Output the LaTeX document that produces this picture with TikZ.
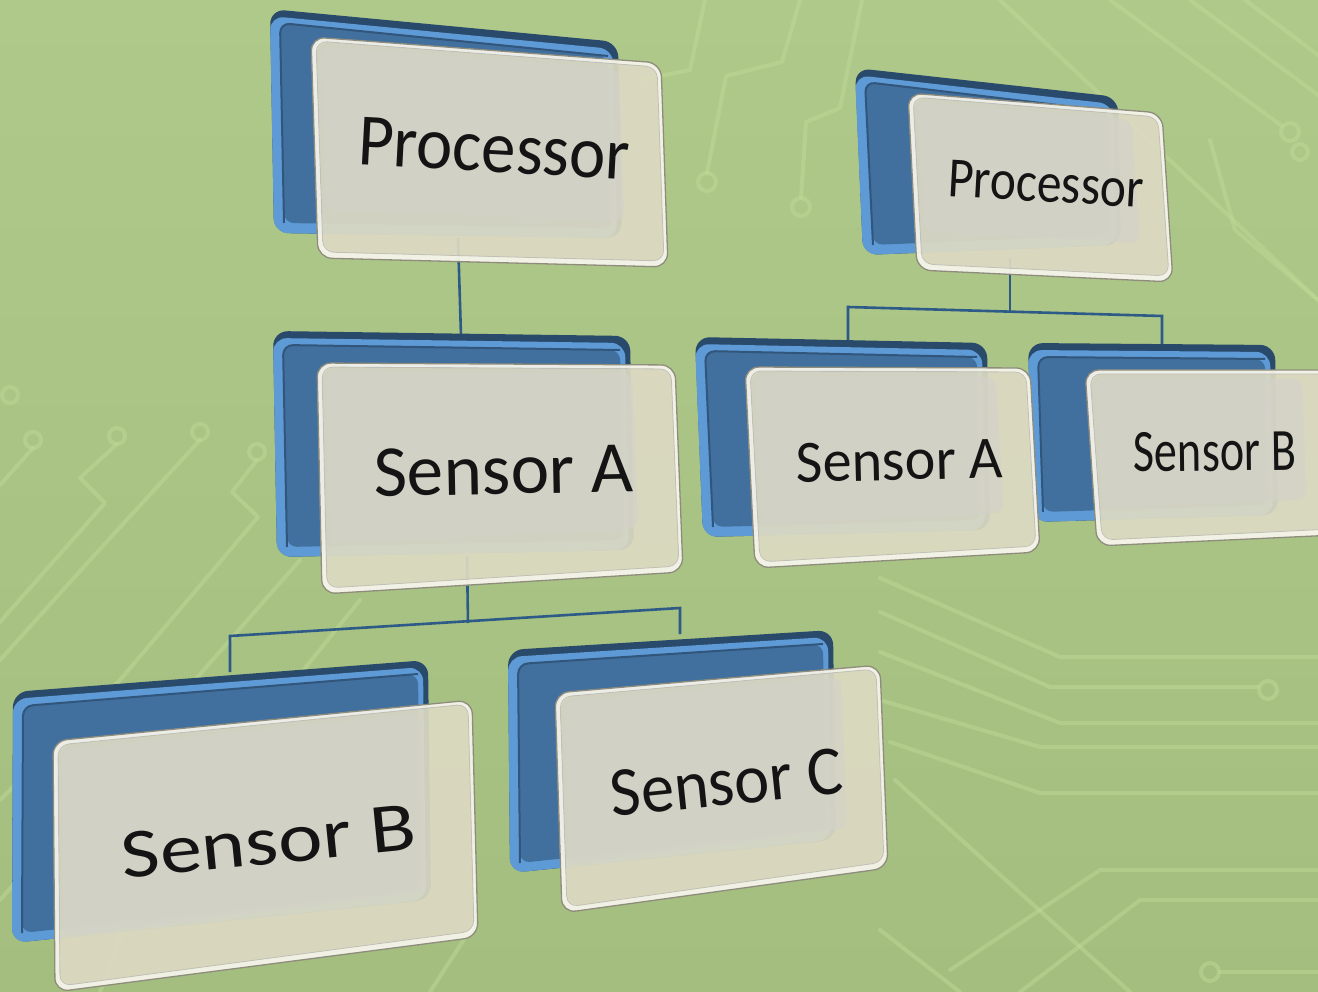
\documentclass[tikz,border=0pt]{standalone}
\usepackage{fontspec}
\setmainfont{Carlito}
\usetikzlibrary{calc}

\definecolor{bgtop}{HTML}{AFC98A}
\definecolor{bgbot}{HTML}{A3BE7E}
\definecolor{trace}{HTML}{BFDA96}
\definecolor{rimdark}{HTML}{2A4A6B}
\definecolor{bevel}{HTML}{5E9BD6}
\definecolor{face}{HTML}{41709F}
\definecolor{cardrim}{HTML}{F4F3E9}
\definecolor{card}{HTML}{DDDAC3}
\definecolor{cardin}{HTML}{D3D2C8}
\definecolor{cardedge}{HTML}{8E8C7C}
\definecolor{linkblue}{HTML}{2E5A88}

% corner points of one chart entry: blue back panel (b1..b4), glass card (f1..f4)
\newcommand{\cardcorners}[9]{%
  \coordinate (#1-b1) at (#2); \coordinate (#1-b2) at (#3);
  \coordinate (#1-b3) at (#4); \coordinate (#1-b4) at (#5);
  \coordinate (#1-f1) at (#6); \coordinate (#1-f2) at (#7);
  \coordinate (#1-f3) at (#8); \coordinate (#1-f4) at (#9);
}

% bevelled blue back panel
\newcommand{\backpanel}[1]{%
  \fill[rimdark, rounded corners=15] (#1-b1) -- (#1-b2) -- (#1-b3) -- (#1-b4) -- cycle;
  \fill[bevel, rounded corners=14] ($(#1-b1)+(0,7)$) -- ($(#1-b2)+(-5,7)$)
        -- ($(#1-b3)+(-5,0)$) -- (#1-b4) -- cycle;
  \fill[face, rounded corners=10] ($(#1-b1)+(10,14)$) -- ($(#1-b2)+(-10,14)$)
        -- ($(#1-b3)+(-10,-10)$) -- ($(#1-b4)+(10,-10)$) -- cycle;
  \draw[rimdark!70!face, line width=2, rounded corners=10] ($(#1-b4)+(10,-10)$)
        -- ($(#1-b1)+(10,14)$) -- ($(#1-b2)+(-10,14)$);
}

% translucent glass card in front
\newcommand{\frontcard}[1]{%
  \coordinate (#1-i1) at ($(#1-f1)+(9,9)$);
  \coordinate (#1-i2) at ($(#1-f2)!0.12!(#1-f1)$);
  \coordinate (#1-i4) at ($(#1-f4)!0.22!(#1-f1)$);
  \coordinate (#1-i3a) at ($(#1-f3)!0.22!(#1-f2)$);
  \coordinate (#1-i3) at ($(#1-i3a)!0.12!(#1-i4)$);
  \fill[cardrim, opacity=0.96, even odd rule, rounded corners=14]
        (#1-f1) -- (#1-f2) -- (#1-f3) -- (#1-f4) -- cycle
        ($(#1-f1)+(5,4)$) -- ($(#1-f2)+(-4,4)$) -- ($(#1-f3)+(-4,-6)$) -- ($(#1-f4)+(5,-6)$) -- cycle;
  \fill[card, opacity=0.92, rounded corners=11]
        ($(#1-f1)+(5,4)$) -- ($(#1-f2)+(-4,4)$) -- ($(#1-f3)+(-4,-6)$) -- ($(#1-f4)+(5,-6)$) -- cycle;
  \fill[cardin, opacity=0.7, rounded corners=10]
        (#1-i1) -- ($(#1-i2)+(0,9)$) -- (#1-i3) -- ($(#1-i4)+(9,0)$) -- cycle;
  \draw[cardedge!55, line width=0.8, rounded corners=11]
        ($(#1-f1)+(5,4)$) -- ($(#1-f2)+(-4,4)$) -- ($(#1-f3)+(-4,-6)$) -- ($(#1-f4)+(5,-6)$) -- cycle;
  \draw[cardedge, line width=1.3, rounded corners=14]
        (#1-f1) -- (#1-f2) -- (#1-f3) -- (#1-f4) -- cycle;
}

\begin{document}
\begin{tikzpicture}[x=1pt, y=-1pt,
  trace/.style={draw=trace, line width=4, opacity=0.5, line cap=round, line join=round},
  pad/.style={draw=trace, line width=4, opacity=0.5},
  link/.style={draw=linkblue, line width=2.6},
  lbl/.style={text=black!92, inner sep=0pt, anchor=base}]

\useasboundingbox (0,0) rectangle (1318,992);
\begin{scope}
\clip (0,0) rectangle (1318,992);

% board background
\shade[top color=bgtop, bottom color=bgbot] (0,0) rectangle (1318,992);

% circuit traces
\draw[trace] (800,0) -- (782,62) -- (726,76) -- (707,173);
\draw[pad] (707,182) circle (9);
\draw[trace] (862,0) -- (840,108) -- (806,122) -- (801,198);
\draw[pad] (801,207) circle (9);
\draw[trace] (705,0) -- (690,70) -- (640,80);
\draw[trace] (1000,0) -- (1318,300);
\draw[trace] (1110,0) -- (1282,126);
\draw[pad] (1290,132) circle (9);
\draw[trace] (1190,0) -- (1318,95);
\draw[trace] (1245,0) -- (1318,55);
\draw[trace] (1210,140) -- (1235,230) -- (1318,300);
\draw[pad] (1300,152) circle (8);
\draw[trace] (880,578) -- (1060,657) -- (1318,657);
\draw[trace] (880,612) -- (1050,687) -- (1258,687);
\draw[pad] (1268,690) circle (9);
\draw[trace] (880,652) -- (1060,723) -- (1318,723);
\draw[trace] (880,700) -- (1040,747) -- (1318,747);
\draw[trace] (890,742) -- (1040,793) -- (1318,793);
\draw[trace] (895,780) -- (1130,992);
\draw[trace] (1020,992) -- (1140,900) -- (1318,900);
\draw[trace] (950,970) -- (1100,870) -- (1318,870);
\draw[pad] (1210,972) circle (9);
\draw[trace] (1220,972) -- (1318,972);
\draw[trace] (200,440) -- (90,560) -- (0,660);
\draw[pad] (200,432) circle (8);
\draw[trace] (117,444) -- (80,478) -- (105,503) -- (0,622);
\draw[pad] (117,436) circle (8);
\draw[trace] (257,460) -- (232,492) -- (258,517) -- (120,680) -- (0,800);
\draw[pad] (257,452) circle (8);
\draw[trace] (33,448) -- (0,485);
\draw[pad] (33,440) circle (8);
\draw[pad] (10,395) circle (8);
\draw[trace] (300,560) -- (160,720) -- (0,900);
\draw[trace] (360,600) -- (150,860) -- (100,992);
\draw[trace] (470,930) -- (430,992);
\draw[trace] (880,930) -- (960,992);

% chart entries: corner points
\cardcorners{LP}{270,9}{618,42}{622,238}{274,233}{311,37}{661,63}{668,267}{318,258}
\cardcorners{LA}{273,331}{630,336}{634,550}{277,557}{317,363}{675,365}{683,572}{322,594}
\cardcorners{LB}{13,692}{428,660}{431,900}{12,943}{53,741}{472,700}{478,937}{55,992}
\cardcorners{LC}{508,650}{833,630}{836,840}{510,873}{555,693}{880,665}{888,868}{562,913}
\cardcorners{RP}{855,68}{1118,97}{1121,245}{863,255}{908,93}{1162,113}{1173,282}{917,270}
\cardcorners{RA}{695,337}{987,343}{990,530}{703,537}{745,367}{1030,368}{1040,552}{755,568}
\cardcorners{RB}{1028,343}{1275,345}{1278,515}{1033,522}{1085,370}{1332,370}{1336,535}{1097,546}

% connector anchor points
\coordinate (LP-s) at (458,238);  \coordinate (LA-n) at (461,336);
\coordinate (LA-s) at (467,556);  \coordinate (LA-j) at (468,623);
\coordinate (LB-j) at (230,636);  \coordinate (LB-n) at (230,672);
\coordinate (LC-j) at (680,608);  \coordinate (LC-n) at (680,634);
\coordinate (RP-s) at (1010,258); \coordinate (RP-j) at (1010,312);
\coordinate (RA-j) at (848,307);  \coordinate (RA-n) at (848,341);
\coordinate (RB-j) at (1162,316); \coordinate (RB-n) at (1162,345);

% connectors
\draw[link] (LP-s) -- (LA-n);
\draw[link] (LA-s) -- (LA-j);
\draw[link] (LB-n) -- (LB-j) -- (LC-j) -- (LC-n);
\draw[link] (RP-s) -- (RP-j);
\draw[link] (RA-n) -- (RA-j) -- (RB-j) -- (RB-n);

% panels and cards
\backpanel{LP} \frontcard{LP}
\backpanel{LA} \frontcard{LA}
\backpanel{LB} \frontcard{LB}
\backpanel{LC} \frontcard{LC}
\backpanel{RP} \frontcard{RP}
\backpanel{RB} \frontcard{RB}
\backpanel{RA} \frontcard{RA}

% labels
\node[lbl, rotate=-3.1, xscale=0.93, font=\fontsize{74}{80}\selectfont] (LP-t) at (493,172) {Processor};
\node[lbl, rotate=1.1, xscale=1.0, font=\fontsize{73}{80}\selectfont] (LA-t) at (504,494) {Sensor A};
\node[lbl, rotate=5.7, xscale=1.2, font=\fontsize{70}{80}\selectfont] (LB-t) at (271,864) {Sensor B};
\node[lbl, rotate=5.9, xscale=0.95, font=\fontsize{70}{80}\selectfont] (LC-t) at (729,805) {Sensor C};
\node[lbl, rotate=-3.2, xscale=0.87, font=\fontsize{57}{60}\selectfont] (RP-t) at (1045,202) {Processor};
\node[lbl, rotate=1.4, xscale=0.97, font=\fontsize{60}{64}\selectfont] (RA-t) at (900,480) {Sensor A};
\node[lbl, rotate=0.7, xscale=0.77, font=\fontsize{60}{64}\selectfont] (RB-t) at (1215,471) {Sensor B};
\end{scope}
\end{tikzpicture}
\end{document}
